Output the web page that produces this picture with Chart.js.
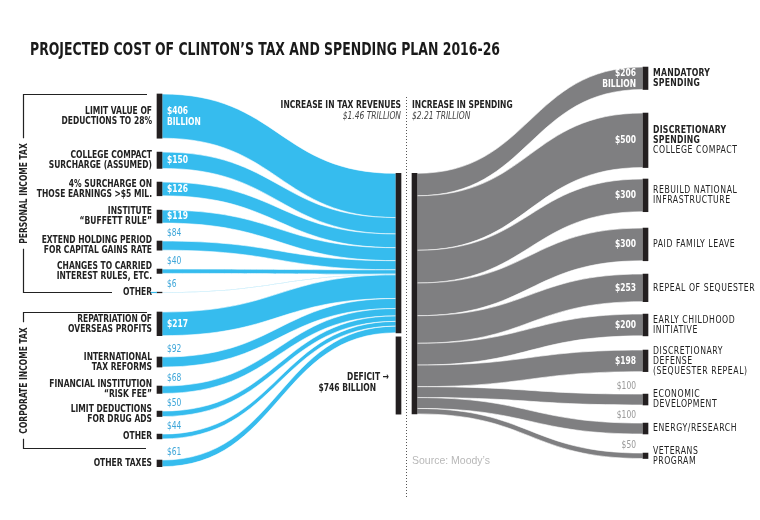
<!DOCTYPE html>
<html>
<head>
<meta charset="utf-8">
<script src="https://cdn.jsdelivr.net/npm/chart.js@4.4.0/dist/chart.umd.min.js"></script>
<style>
  html, body { margin: 0; padding: 0; background: #fff; }
  #sankey { display: block; }
</style>
</head>
<body>
<canvas id="sankey" width="760" height="520"></canvas>
<script>
// ---- data ($ billions, 2016-26) ----
const taxLabels = [
  ["LIMIT VALUE OF", "DEDUCTIONS TO 28%"],
  ["COLLEGE COMPACT", "SURCHARGE (ASSUMED)"],
  ["4% SURCHARGE ON", "THOSE EARNINGS >$5 MIL."],
  ["INSTITUTE", "\u201cBUFFETT RULE\u201d"],
  ["EXTEND HOLDING PERIOD", "FOR CAPITAL GAINS RATE"],
  ["CHANGES TO CARRIED", "INTEREST RULES, ETC."],
  ["OTHER"],
  ["REPATRIATION OF", "OVERSEAS PROFITS"],
  ["INTERNATIONAL", "TAX REFORMS"],
  ["FINANCIAL INSTITUTION", "\u201cRISK FEE\u201d"],
  ["LIMIT DEDUCTIONS", "FOR DRUG ADS"],
  ["OTHER"],
  ["OTHER TAXES"]
];
const taxValues = [406, 150, 126, 119, 84, 40, 6, 217, 92, 68, 50, 44, 61];

const taxGroups = ["PERSONAL INCOME TAX", "CORPORATE INCOME TAX"];
const groupFirst = [0, 7];
const groupLast = [6, 11];

const spendLabels = [
  ["MANDATORY", "SPENDING"],
  ["DISCRETIONARY", "SPENDING", "COLLEGE COMPACT"],
  ["REBUILD NATIONAL", "INFRASTRUCTURE"],
  ["PAID FAMILY LEAVE"],
  ["REPEAL OF SEQUESTER"],
  ["EARLY CHILDHOOD", "INITIATIVE"],
  ["DISCRETIONARY", "DEFENSE", "(SEQUESTER REPEAL)"],
  ["ECONOMIC", "DEVELOPMENT"],
  ["ENERGY/RESEARCH"],
  ["VETERANS", "PROGRAM"]
];
const spendValues = [206, 500, 300, 300, 253, 200, 198, 100, 100, 50];

const deficit = 746;
const middleTitles = ["INCREASE IN TAX REVENUES", "INCREASE IN SPENDING"];
const middleTotals = ["$1.46 TRILLION", "$2.21 TRILLION"];
const title = "PROJECTED COST OF CLINTON\u2019S TAX AND SPENDING PLAN 2016-26";
const source = "Source: Moody\u2019s";

// ---- layout (x in px, y tops in billions on the value axis) ----
const colX = [159.5, 398.5, 414.5, 645.5];
const barW = 5;
const srcTop = [-728, -195, 80, 337, 621, 878, 1090, 1272, 1685, 1951, 2181, 2392, 2630];
const dstTop = [-975, -553, 52, 502, 924, 1291, 1621, 2025, 2291, 2566];
const deficitGap = 37;
const boldLines = { 0: [0, 1], 1: [0, 1] };

const BLUE = "#36bcee";
const GRAY = "#7f7f81";
const DARK = "#231f20";
const NARROW = "'Liberation Sans Narrow', 'DejaVu Sans Condensed', 'Roboto Condensed', sans-serif";
const SX = 0.8; // horizontal squeeze for the condensed labels

const revenueTotal = taxValues.reduce((a, b) => a + b, 0);
const spendTotal = spendValues.reduce((a, b) => a + b, 0);

// node bars as floating bars
const nodeBars = [];
taxValues.forEach((v, i) => nodeBars.push({ x: colX[0], y: [srcTop[i], srcTop[i] + v] }));
nodeBars.push({ x: colX[1], y: [0, revenueTotal] });
nodeBars.push({ x: colX[1], y: [revenueTotal + deficitGap, revenueTotal + deficit] });
nodeBars.push({ x: colX[2], y: [0, spendTotal] });
spendValues.forEach((v, i) => nodeBars.push({ x: colX[3], y: [dstTop[i], dstTop[i] + v] }));

const band = (ctx, x0, a0, b0, x1, a1, b1, color) => {
  const xm = (x0 + x1) / 2;
  ctx.beginPath();
  ctx.moveTo(x0, a0);
  ctx.bezierCurveTo(xm, a0, xm, a1, x1, a1);
  ctx.lineTo(x1, b1);
  ctx.bezierCurveTo(xm, b1, xm, b0, x0, b0);
  ctx.closePath();
  ctx.fillStyle = color;
  ctx.fill();
  ctx.strokeStyle = "rgba(255,255,255,0.85)";
  ctx.lineWidth = 0.7;
  ctx.stroke();
};

// squeezed text
const txt = (ctx, s, x, y, font, align, sx = SX) => {
  ctx.save();
  ctx.font = font;
  ctx.textAlign = align;
  ctx.translate(x, y);
  ctx.scale(sx, 1);
  ctx.fillText(s, 0, 0);
  ctx.restore();
};

const flowPlugin = {
  id: "flows",
  beforeDatasetsDraw(chart) {
    const { ctx, scales: { x, y } } = chart;
    ctx.save();
    let acc = 0;
    taxValues.forEach((v, i) => {
      band(ctx,
        x.getPixelForValue(colX[0] + barW / 2), y.getPixelForValue(srcTop[i]), y.getPixelForValue(srcTop[i] + v),
        x.getPixelForValue(colX[1] - barW / 2), y.getPixelForValue(acc), y.getPixelForValue(acc + v), BLUE);
      acc += v;
    });
    acc = 0;
    spendValues.forEach((v, i) => {
      band(ctx,
        x.getPixelForValue(colX[2] + barW / 2), y.getPixelForValue(acc), y.getPixelForValue(acc + v),
        x.getPixelForValue(colX[3] - barW / 2), y.getPixelForValue(dstTop[i]), y.getPixelForValue(dstTop[i] + v), GRAY);
      acc += v;
    });
    ctx.restore();
  },
  afterDraw(chart) {
    const { ctx, scales: { x, y } } = chart;
    ctx.save();
    ctx.textBaseline = "middle";
    const B = "bold 10.5px " + NARROW;
    const R = "10.5px " + NARROW;

    // title
    ctx.fillStyle = "#1a1a1a";
    ctx.textBaseline = "alphabetic";
    ctx.font = "bold 17px " + NARROW;
    ctx.textAlign = "left";
    ctx.fillText(title, 30, 55, 470);
    ctx.textBaseline = "middle";

    // dotted divider
    const xd = (x.getPixelForValue(colX[1]) + x.getPixelForValue(colX[2])) / 2;
    ctx.strokeStyle = "#555";
    ctx.lineWidth = 1;
    ctx.setLineDash([1, 2]);
    ctx.beginPath();
    ctx.moveTo(xd, 97);
    ctx.lineTo(xd, 497);
    ctx.stroke();
    ctx.setLineDash([]);

    // source labels + values
    const xl = x.getPixelForValue(colX[0] - barW / 2) - 5;
    const xv = x.getPixelForValue(colX[0] + barW / 2) + 5;
    taxValues.forEach((v, i) => {
      const t = y.getPixelForValue(srcTop[i]);
      const b = y.getPixelForValue(srcTop[i] + v);
      const c = (t + b) / 2;
      const lines = taxLabels[i];
      ctx.fillStyle = "#222";
      lines.forEach((ln, j) => txt(ctx, ln, xl, c + (j - (lines.length - 1) / 2) * 10, B, "right"));
      if (v >= 100) {
        ctx.fillStyle = "#fff";
        if (i === 0) {
          txt(ctx, "$" + v, xv, c - 5, B, "left");
          txt(ctx, "BILLION", xv, c + 6, B, "left");
        } else {
          txt(ctx, "$" + v, xv, c, B, "left");
        }
      } else {
        ctx.fillStyle = "#3ea6d9";
        txt(ctx, "$" + v, xv, t - 8, R, "left");
      }
    });

    // group brackets
    ctx.strokeStyle = "#222";
    ctx.lineWidth = 1.2;
    taxGroups.forEach((g, k) => {
      const top = Math.round(y.getPixelForValue(srcTop[groupFirst[k]])) + 0.5;
      const last = groupLast[k];
      const bot = k === 0
        ? Math.round(y.getPixelForValue(srcTop[last] + taxValues[last] / 2)) + 0.5
        : Math.round(y.getPixelForValue(srcTop[last] + taxValues[last])) + 9.5;
      const bx = 23.5;
      const endBot = k === 0 ? 112 : 146;
      const mid = (top + bot) / 2;
      ctx.font = B;
      const w = ctx.measureText(g).width * SX;
      ctx.beginPath();
      ctx.moveTo(147, top); ctx.lineTo(bx, top); ctx.lineTo(bx, mid - w / 2 - 5);
      ctx.moveTo(bx, mid + w / 2 + 5); ctx.lineTo(bx, bot); ctx.lineTo(endBot, bot);
      ctx.stroke();
      ctx.save();
      ctx.translate(bx + 1, mid);
      ctx.rotate(-Math.PI / 2);
      ctx.fillStyle = "#222";
      txt(ctx, g, 0, 0, B, "center");
      ctx.restore();
    });
    // short lead for the lone "OTHER" line
    const o = y.getPixelForValue(srcTop[6] + taxValues[6] / 2);
    ctx.strokeStyle = BLUE;
    ctx.beginPath(); ctx.moveTo(151, o); ctx.lineTo(157, o); ctx.stroke();

    // middle headers
    const xm0 = x.getPixelForValue(colX[1] + barW / 2);
    const xm1 = x.getPixelForValue(colX[2] - barW / 2);
    ctx.fillStyle = "#222";
    txt(ctx, middleTitles[0], xm0, 105, B, "right");
    txt(ctx, middleTitles[1], xm1, 105, B, "left");
    ctx.fillStyle = "#444";
    txt(ctx, middleTotals[0], xm0, 116, "italic " + R, "right");
    txt(ctx, middleTotals[1], xm1, 116, "italic " + R, "left");

    // deficit label
    const dc = y.getPixelForValue(revenueTotal + deficit / 2);
    ctx.fillStyle = "#222";
    txt(ctx, "DEFICIT \u2192", 389, dc + 4, B, "right");
    txt(ctx, "$" + deficit + " BILLION", 376, dc + 15, B, "right");

    // destination labels + values
    const xr = x.getPixelForValue(colX[3] + barW / 2) + 5;
    const xg = x.getPixelForValue(colX[3] - barW / 2) - 7;
    spendValues.forEach((v, i) => {
      const t = y.getPixelForValue(dstTop[i]);
      const b = y.getPixelForValue(dstTop[i] + v);
      const c = (t + b) / 2;
      const lines = spendLabels[i];
      ctx.fillStyle = "#222";
      lines.forEach((ln, j) => {
        const bold = boldLines[i] && boldLines[i].includes(j);
        ctx.letterSpacing = bold ? "0.3px" : "0.7px";
        txt(ctx, ln, xr, c + (j - (lines.length - 1) / 2) * 10, bold ? B : R, "left", 0.82);
      });
      ctx.letterSpacing = "0px";
      if (v > 100) {
        ctx.fillStyle = "#fff";
        if (i === 0) {
          txt(ctx, "$" + v, xg, c - 5, B, "right");
          txt(ctx, "BILLION", xg, c + 6, B, "right");
        } else {
          txt(ctx, "$" + v, xg, c, B, "right");
        }
      } else {
        ctx.fillStyle = "#999";
        txt(ctx, "$" + v, xg, t - 8, R, "right");
      }
    });

    // source note
    ctx.fillStyle = "#b8b8b8";
    txt(ctx, source, xm1, 461, "10.5px 'Liberation Sans', Arial, sans-serif", "left", 1);

    ctx.restore();
  }
};

new Chart(document.getElementById("sankey"), {
  type: "bar",
  data: {
    datasets: [{
      data: nodeBars,
      backgroundColor: DARK,
      barThickness: barW,
      borderWidth: 0
    }]
  },
  options: {
    responsive: false,
    animation: false,
    layout: { padding: 0 },
    plugins: { legend: { display: false }, tooltip: { enabled: false } },
    scales: {
      x: { type: "linear", min: 0, max: 760, offset: false, display: false },
      y: { min: -1590, max: 3180, reverse: true, display: false }
    }
  },
  plugins: [flowPlugin]
});
</script>
</body>
</html>
